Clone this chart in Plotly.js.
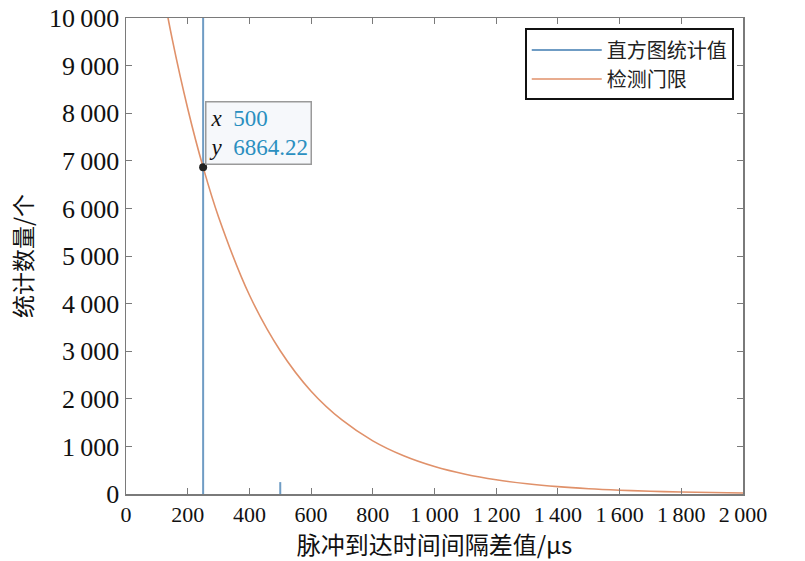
<!DOCTYPE html>
<html>
<head>
<meta charset="utf-8">
<script src="https://cdn.plot.ly/plotly-3.0.1.min.js"></script>
<style>
  html, body { margin: 0; padding: 0; background: #fff; }
  #myGraph { width: 805px; height: 561px; }
</style>
</head>
<body>
<div id="myGraph"></div>
<script>
// histogram bins (only the non-empty ones are visible)
let histX = [250, 500];
let histY = [12000, 250];

// detection threshold
let limitX = [100, 150, 200, 250, 300, 400, 500, 600, 700, 800, 900, 1000,
              1100, 1200, 1300, 1400, 1500, 1600, 1700, 1800, 1900, 2000];
let limitY = [11260, 9550, 8100, 6864, 5820, 4180, 3010, 2160, 1555, 1117, 803, 577,
              415, 298, 215, 154, 111, 80, 57, 41, 30, 21];

// data tip
let tipX = 250;
let tipY = 6864.22;
let tipLabel = '500';

let serif = '"Liberation Serif", "Times New Roman", serif';
let cjk = '"Noto Sans CJK SC", sans-serif';

// stems for the histogram
let stemX = [];
let stemY = [];
histX.forEach((x, i) => {
    stemX.push(x, x, null);
    stemY.push(0, histY[i], null);
});

let trace1 = {
    type: 'scatter',
    mode: 'lines',
    name: '直方图统计值',
    x: stemX,
    y: stemY,
    line: { color: '#6f9cc4', width: 2 },
    hoverinfo: 'skip'
};

let trace2 = {
    type: 'scatter',
    mode: 'lines',
    name: '检测门限',
    x: limitX,
    y: limitY,
    line: { color: '#e0916a', width: 1.6, shape: 'spline' }
};

let trace3 = {
    type: 'scatter',
    mode: 'markers',
    x: [tipX],
    y: [tipY],
    marker: { color: '#222', size: 8 },
    showlegend: false
};

let data = [trace1, trace2, trace3];

let axisStyle = {
    showgrid: false,
    zeroline: false,
    showline: true,
    mirror: 'ticks',
    linecolor: '#7a7a7a',
    linewidth: 1.5,
    ticks: 'inside',
    ticklen: 6,
    tickcolor: '#7a7a7a',
    tickformat: ',d',
    separatethousands: true
};

let layout = {
    width: 805,
    height: 561,
    margin: { l: 126, r: 62, t: 18, b: 67 },
    paper_bgcolor: '#fff',
    plot_bgcolor: '#fff',
    separators: '.\u2009',
    showlegend: true,
    legend: {
        x: 0.985, y: 0.978,
        xanchor: 'right', yanchor: 'top',
        bgcolor: '#fff',
        bordercolor: '#111',
        borderwidth: 2,
        itemwidth: 70,
        font: { family: cjk, size: 20, color: '#222' },
        tracegroupgap: 0
    },
    xaxis: Object.assign({}, axisStyle, {
        range: [0, 2000],
        dtick: 200,
        tick0: 0,
        tickfont: { family: serif, size: 22, color: '#111' },
        title: { text: '脉冲到达时间间隔差值/μs', font: { family: cjk, size: 24, color: '#111' }, standoff: 5 }
    }),
    yaxis: Object.assign({}, axisStyle, {
        range: [0, 10000],
        dtick: 1000,
        tick0: 0,
        tickfont: { family: serif, size: 26, color: '#111' },
        title: { text: '统计数量/个', font: { family: cjk, size: 23, color: '#111' }, standoff: 10 }
    }),
    annotations: [{
        x: tipX,
        y: tipY,
        xref: 'x',
        yref: 'y',
        xanchor: 'left',
        yanchor: 'bottom',
        xshift: 2,
        yshift: 2,
        showarrow: false,
        align: 'left',
        text: '<i>x</i>  <span style="color:#2a8fc0">' + tipLabel + '</span><br><i>y</i>  <span style="color:#2a8fc0">' + tipY.toFixed(2) + '</span>',
        font: { family: serif, size: 23, color: '#111' },
        bgcolor: '#f6f8fb',
        bordercolor: '#9a9a9a',
        borderwidth: 1.5,
        borderpad: 3
    }]
};

Plotly.newPlot('myGraph', data, layout, { displayModeBar: false, staticPlot: true });
</script>
</body>
</html>
